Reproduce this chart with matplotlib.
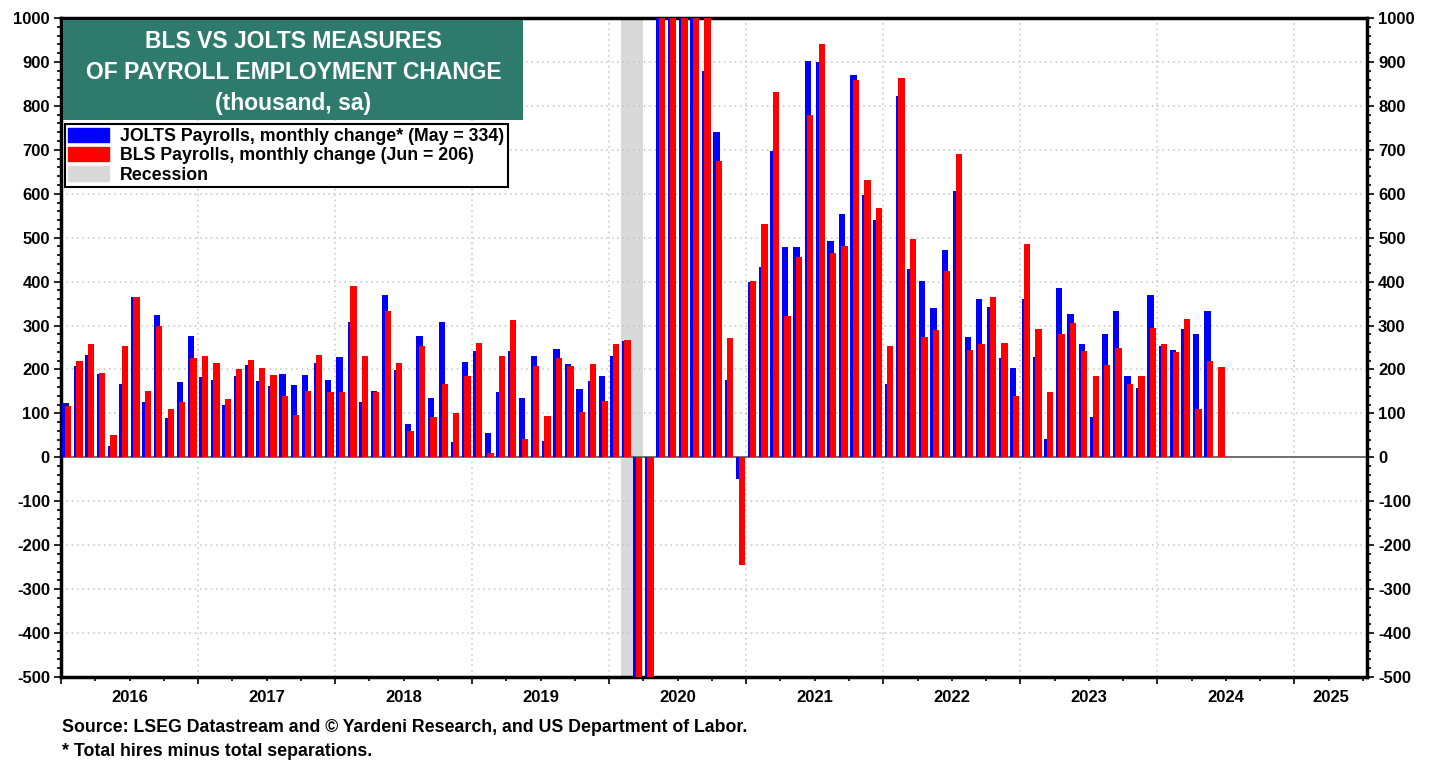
"""BLS vs JOLTS : variation mensuelle de l'emploi salarié (milliers, cvs)."""
import numpy as np
import matplotlib.pyplot as plt
from matplotlib.patches import Rectangle, Patch
from matplotlib.ticker import MultipleLocator, FixedLocator
from matplotlib.transforms import blended_transform_factory

plt.rcParams['font.family'] = ['Liberation Sans', 'DejaVu Sans']
plt.rcParams['font.weight'] = 'bold'
plt.rcParams['axes.unicode_minus'] = False

# BLS, janv. 2016 -> juin 2024 (valeurs hors cadre = barres coupées)
bls = [117, 219, 259, 192, 51, 254, 366, 152, 300, 111, 125, 226,
       231, 215, 132, 201, 221, 204, 188, 140, 96, 152, 233, 149,
       149, 391, 230, 149, 332, 215, 60, 253, 91, 168, 100, 185,
       260, 10, 230, 312, 42, 208, 94, 226, 208, 103, 213, 128,
       257, 266, -1373, -20477, 2797, 4587, 1726, 1583, 1100, 675, 272, -246,
       402, 531, 832, 322, 455, 780, 940, 466, 482, 860, 632, 568,
       253, 863, 497, 275, 289, 423, 691, 245, 257, 365, 260, 140,
       485, 291, 149, 281, 306, 242, 186, 211, 249, 168, 185, 294,
       257, 240, 315, 109, 219, 206]
# JOLTS (embauches - séparations), janv. 2016 -> mai 2024
jolts = [124, 209, 232, 189, 25, 168, 366, 127, 325, 89, 172, 277,
         183, 177, 118, 185, 210, 174, 163, 190, 165, 188, 215, 175,
         229, 309, 126, 151, 370, 198, 75, 277, 134, 309, 36, 218,
         242, 55, 149, 243, 134, 230, 37, 247, 213, 155, 174, 185,
         230, 264, -1500, -12000, 3000, 4000, 1500, 1200, 879, 741, 177, -50,
         398, 434, 698, 479, 479, 903, 900, 493, 553, 870, 596, 541,
         168, 823, 428, 402, 340, 472, 606, 275, 360, 342, 226, 203,
         360, 229, 42, 385, 327, 258, 91, 281, 332, 186, 158, 370,
         253, 245, 291, 281, 334]
START_YEAR = 2016
years = list(range(2016, 2026))
recession = (2020.09, 2020.25)

XMAX = 2025.53
W = 0.046      # largeur d'une barre (années)
OFF = 0.009

x_bls = START_YEAR + (np.arange(len(bls)) + 0.5) / 12
x_jol = START_YEAR + (np.arange(len(jolts)) + 0.5) / 12

fig = plt.figure(figsize=(14.38, 7.62), dpi=100)
ax = fig.add_axes([61 / 1438, 1 - 677 / 762, 1306 / 1438, 659 / 762])

ax.axvspan(*recession, color='#D9D9D9', lw=0, zorder=0)
ax.bar(x_jol - OFF, jolts, width=W, color='#0000FF', lw=0, zorder=3)
ax.bar(x_bls + OFF, bls, width=W, color='#FF0000', lw=0, zorder=4)
ax.axhline(0, color='#666666', lw=1.3, zorder=2)

ax.set_xlim(2016, XMAX)
ax.set_ylim(-500, 1000)
ax.yaxis.set_major_locator(MultipleLocator(100))
ax.yaxis.set_minor_locator(MultipleLocator(20))
ax.xaxis.set_major_locator(FixedLocator(years))
ax.xaxis.set_minor_locator(MultipleLocator(0.25))
ax.set_xticklabels([])
ax.grid(True, which='major', color='#C4C4C4', ls=(0, (1, 2.5)), lw=1.1, zorder=1)
ax.tick_params(axis='y', which='both', direction='out', left=True, right=True,
               labelleft=True, labelright=True, labelsize=12, width=1.2, pad=3)
ax.tick_params(axis='x', which='both', direction='out', width=1.2)
ax.tick_params(which='major', length=5)
ax.tick_params(which='minor', length=3)
for s in ax.spines.values():
    s.set_linewidth(2.5)

tr = blended_transform_factory(ax.transData, ax.transAxes)
for y in years:
    xc = y + 0.5 if y + 1 <= XMAX else (y + XMAX) / 2
    ax.text(xc, -0.031, str(y), transform=tr, ha='center', va='center',
            fontsize=12, fontweight='bold')

# cartouche du titre
ax.add_patch(Rectangle((0.0015, 0.845), 0.3525, 0.152, transform=ax.transAxes,
                       facecolor='#2E7B6E', edgecolor='none', zorder=6))
ax.text(0.178, 0.917, "BLS VS JOLTS MEASURES\nOF PAYROLL EMPLOYMENT CHANGE\n(thousand, sa)",
        transform=ax.transAxes, ha='center', va='center', color='white',
        fontsize=16.5, fontweight='bold', linespacing=1.45, zorder=7)

handles = [Patch(color='#0000FF'), Patch(color='#FF0000'), Patch(color='#D9D9D9')]
labels = ["JOLTS Payrolls, monthly change* (May = 334)",
          "BLS Payrolls, monthly change (Jun = 206)",
          "Recession"]
leg = ax.legend(handles, labels, loc='upper left', bbox_to_anchor=(0.003, 0.839),
                borderaxespad=0, fancybox=False, framealpha=1, edgecolor='black',
                fontsize=12.8, handlelength=2.3, handleheight=0.85, handletextpad=0.6,
                labelspacing=0.12, borderpad=0.2)
leg.get_frame().set_linewidth(1.5)
leg.set_zorder(8)

fig.text(62 / 1438, 1 - 727 / 762, "Source: LSEG Datastream and © Yardeni Research, and US Department of Labor.",
         ha='left', va='center', fontsize=12.8, fontweight='bold')
fig.text(62 / 1438, 1 - 751 / 762, "* Total hires minus total separations.",
         ha='left', va='center', fontsize=12.8, fontweight='bold')

fig.savefig("out.png", dpi=100)
